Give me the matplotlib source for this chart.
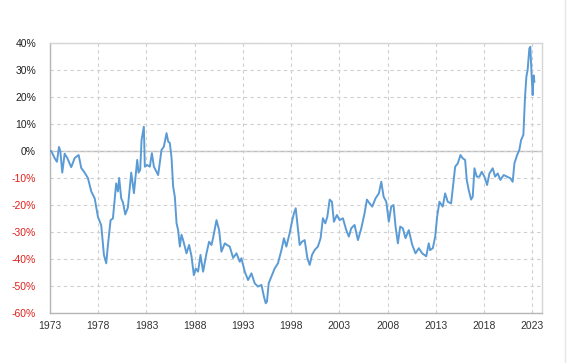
import matplotlib
matplotlib.use("Agg")
import matplotlib.pyplot as plt
from matplotlib.lines import Line2D

years = [1973.00, 1973.13, 1973.49, 1973.72, 1973.93, 1974.07, 1974.27, 1974.52, 1974.79,
         1975.20, 1975.56, 1975.97, 1976.24, 1976.59, 1976.93, 1977.28, 1977.63, 1977.97,
         1978.31, 1978.59, 1978.83, 1979.00, 1979.28, 1979.52, 1979.86, 1980.04, 1980.17,
         1980.38, 1980.56, 1980.80, 1981.07, 1981.42, 1981.70, 1982.04, 1982.18, 1982.35,
         1982.49, 1982.73, 1982.83, 1983.07, 1983.35, 1983.56, 1983.77, 1984.21, 1984.56,
         1984.80, 1985.08, 1985.25, 1985.42, 1985.60, 1985.76, 1985.94, 1986.12, 1986.28,
         1986.46, 1986.63, 1986.80, 1987.15, 1987.42, 1987.67, 1987.91, 1988.11, 1988.35,
         1988.60, 1988.87, 1989.22, 1989.49, 1989.74, 1989.90, 1990.26, 1990.53, 1990.77,
         1991.12, 1991.35, 1991.63, 1991.98, 1992.33, 1992.67, 1992.84, 1993.19, 1993.53,
         1993.88, 1994.22, 1994.56, 1994.92, 1995.18, 1995.36, 1995.49, 1995.67, 1995.95,
         1996.29, 1996.63, 1996.99, 1997.25, 1997.50, 1997.84, 1998.08, 1998.29, 1998.47,
         1998.64, 1998.88, 1999.12, 1999.40, 1999.68, 1999.92, 2000.16, 2000.43, 2000.77,
         2001.05, 2001.29, 2001.54, 2001.75, 2001.99, 2002.22, 2002.43, 2002.74, 2003.02,
         2003.36, 2003.71, 2003.98, 2004.23, 2004.57, 2004.92, 2005.27, 2005.61, 2005.85,
         2006.13, 2006.40, 2006.75, 2007.09, 2007.34, 2007.58, 2007.86, 2008.12, 2008.37,
         2008.61, 2008.82, 2009.06, 2009.30, 2009.57, 2009.85, 2010.19, 2010.55, 2010.89,
         2011.23, 2011.58, 2012.00, 2012.26, 2012.40, 2012.68, 2012.93, 2013.13, 2013.37,
         2013.71, 2013.96, 2014.23, 2014.58, 2014.85, 2015.00, 2015.27, 2015.55, 2015.78,
         2016.03, 2016.20, 2016.40, 2016.65, 2016.82, 2017.00, 2017.23, 2017.51, 2017.75,
         2018.03, 2018.31, 2018.55, 2018.89, 2019.14, 2019.41, 2019.69, 2020.03, 2020.38,
         2020.72, 2020.96, 2021.14, 2021.42, 2021.65, 2021.83, 2022.07, 2022.24, 2022.38,
         2022.51, 2022.69, 2022.79, 2022.93, 2023.03, 2023.13, 2023.21]

values = [0.0, 0.0, -2.7, -4.0, 1.5, 0.0, -8.0, -1.0, -2.6,
          -6.0, -2.6, -1.5, -6.3, -8.0, -10.0, -15.0, -17.5, -24.4,
          -27.5, -38.5, -41.6, -35.0, -25.6, -25.0, -12.0, -15.0, -10.0,
          -17.5, -19.0, -23.5, -21.0, -8.0, -15.6, -3.3, -8.0, -7.0,
          4.0, 9.0, -5.8, -5.2, -5.8, -0.8, -5.8, -8.9, 0.4,
          1.6, 6.6, 3.5, 3.0, -2.6, -13.0, -17.0, -26.8, -29.3,
          -35.4, -31.0, -33.0, -37.9, -34.8, -39.0, -46.0, -43.5, -44.7,
          -38.5, -44.7, -37.9, -33.6, -34.8, -32.3, -25.6, -29.3, -37.3,
          -34.2, -34.8, -35.4, -39.6, -37.9, -41.0, -39.7, -44.7, -47.8,
          -45.3, -49.0, -50.2, -49.6, -54.0, -56.4, -55.8, -49.0, -46.5,
          -43.5, -41.6, -36.7, -32.3, -35.4, -30.5, -26.2, -23.0, -21.2,
          -26.8, -34.8, -33.6, -33.0, -39.7, -42.2, -38.5, -36.7, -35.4,
          -32.3, -24.9, -26.8, -24.3, -18.0, -18.8, -26.2, -23.7, -25.6,
          -24.9, -29.3, -31.7, -28.6, -27.4, -33.0, -28.6, -23.0, -18.0,
          -19.4, -20.6, -17.5, -15.7, -11.4, -16.9, -18.8, -26.2, -20.6,
          -20.0, -28.0, -34.2, -28.0, -28.6, -32.3, -29.3, -34.8, -37.9,
          -36.0, -37.9, -39.0, -34.2, -36.7, -36.0, -31.7, -24.3, -18.8,
          -20.6, -15.7, -18.8, -19.4, -10.7, -5.8, -4.6, -1.5, -2.7,
          -3.3, -10.7, -14.4, -18.0, -16.9, -6.4, -9.5, -9.5, -7.7,
          -9.5, -12.6, -8.3, -6.4, -9.5, -8.3, -10.7, -8.9, -9.5,
          -10.1, -11.4, -4.6, -1.5, 0.4, 4.0, 6.0, 20.0, 27.5,
          30.0, 38.0, 38.6, 27.5, 20.7, 28.0, 25.7]

x_ticks = [1973, 1978, 1983, 1988, 1993, 1998, 2003, 2008, 2013, 2018, 2023]
y_ticks = [-60, -50, -40, -30, -20, -10, 0, 10, 20, 30, 40]

plt.rcParams['font.family'] = ['Liberation Sans', 'DejaVu Sans']

fig = plt.figure(figsize=(5.67, 3.63), dpi=100)
ax = fig.add_axes([50/567, 50/363, 492/567, 270/363])

ax.plot(years, values, color='#5b9bd5', linewidth=1.4, zorder=3)

ax.set_xlim(1973, 2024.0)
ax.set_ylim(-60, 40)
ax.set_xticks(x_ticks)
ax.set_xticklabels([str(t) for t in x_ticks])
ax.set_yticks(y_ticks)
ax.set_yticklabels([f"{t}%" for t in y_ticks])
for lbl, t in zip(ax.get_yticklabels(), y_ticks):
    lbl.set_color('#e0201b' if t < 0 else '#222222')
for lbl in ax.get_xticklabels():
    lbl.set_color('#333333')

ax.tick_params(axis='both', length=0, labelsize=7.5)
ax.tick_params(axis='y', pad=10)
ax.tick_params(axis='x', pad=6)

ax.grid(True, linestyle=(0, (3, 3)), color='#cfcfcf', linewidth=0.8, zorder=0)
ax.axhline(0, color='#bdbdbd', linewidth=1.0, zorder=1)

for side in ['left', 'bottom']:
    ax.spines[side].set_color('#b5b5b5')
    ax.spines[side].set_linewidth(1.0)
for side in ['top', 'right']:
    ax.spines[side].set_color('#d5d5d5')
    ax.spines[side].set_linewidth(1.0)

fig.add_artist(Line2D([565/567, 565/567], [0, 1], transform=fig.transFigure,
                      color='#e6e6e6', linewidth=1.0))

fig.savefig('out.png', dpi=100)
